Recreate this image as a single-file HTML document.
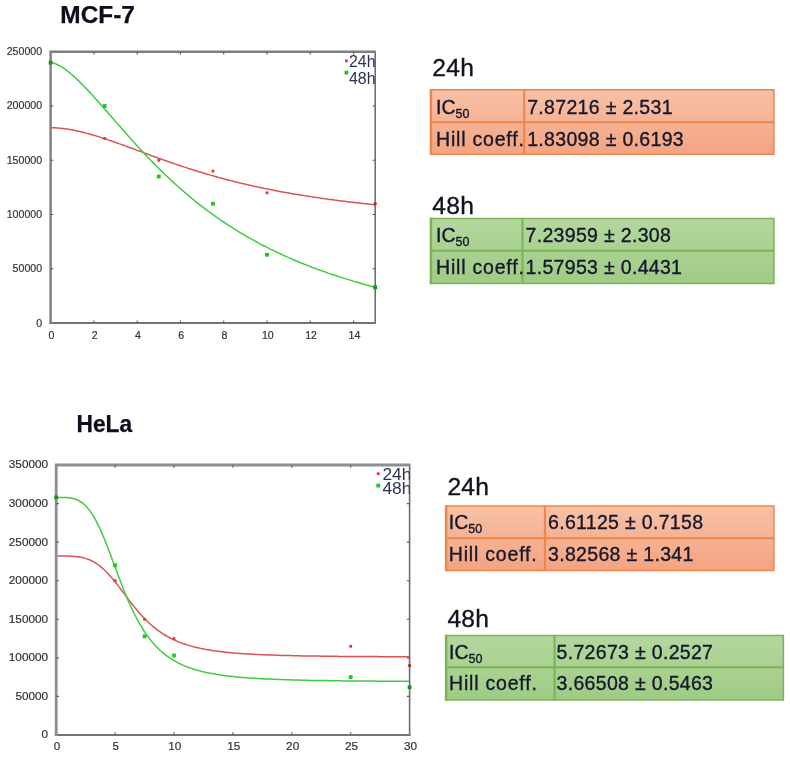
<!DOCTYPE html>
<html lang="en"><head><meta charset="utf-8"><title>IC50 dose-response fits</title>
<style>
html,body{margin:0;padding:0;background:#fff}
body{width:790px;height:758px;position:relative;overflow:hidden}
svg{position:absolute;left:0;top:0;font-family:"Liberation Sans",sans-serif}
.ax{font-size:10.8px;fill:#333;stroke:#333;stroke-width:.2px}
.lg{font-size:16px;fill:#2a3350}
.ttl{font-weight:bold;fill:#0c0e1c;stroke:#0c0e1c;stroke-width:.25px}
.hd{font-size:24.6px;fill:#10131f;letter-spacing:.3px;stroke:#10131f;stroke-width:.35px}
.tc{font-size:19.5px;fill:#15182a;letter-spacing:.8px;stroke:#15182a;stroke-width:.35px}
.tv{font-size:19.5px;fill:#15182a;letter-spacing:.32px;stroke:#15182a;stroke-width:.35px}
.ic{letter-spacing:0}
.sb{font-size:12.5px;letter-spacing:0}
</style></head><body>
<svg width="790" height="758" viewBox="0 0 790 758">
<defs>
<linearGradient id="go" x1="0" y1="0" x2="0" y2="1"><stop offset="0" stop-color="#f7c1a7"/><stop offset="1" stop-color="#f4a380"/></linearGradient>
<linearGradient id="gg" x1="0" y1="0" x2="0" y2="1"><stop offset="0" stop-color="#b4d79e"/><stop offset="1" stop-color="#9fcb84"/></linearGradient>
<filter id="bt" x="-2%" y="-10%" width="104%" height="120%"><feGaussianBlur stdDeviation="0.3"/></filter>
<filter id="bl" x="-5%" y="-5%" width="110%" height="110%"><feGaussianBlur stdDeviation="0.45"/></filter>
</defs>
<text class="ttl" x="60.3" y="23.4" font-size="24.3" textLength="74.6" lengthAdjust="spacingAndGlyphs">MCF-7</text>
<text class="ttl" x="76.5" y="432.4" font-size="23.4" textLength="55.7" lengthAdjust="spacingAndGlyphs">HeLa</text>
<g id="chart-mcf7" filter="url(#bl)">
<path d="M50.6,127.7 L52.2,127.7 L53.8,127.8 L55.5,127.8 L57.1,127.9 L58.7,128.1 L60.3,128.2 L62.0,128.4 L63.6,128.6 L65.2,128.8 L66.8,129.0 L68.5,129.3 L70.1,129.6 L71.7,129.8 L73.3,130.1 L74.9,130.5 L76.6,130.8 L78.2,131.2 L79.8,131.5 L81.4,131.9 L83.1,132.3 L84.7,132.7 L86.3,133.1 L87.9,133.6 L89.6,134.0 L91.2,134.5 L92.8,135.0 L94.4,135.4 L96.0,135.9 L97.7,136.4 L99.3,136.9 L100.9,137.4 L102.5,138.0 L104.2,138.5 L105.8,139.0 L107.4,139.6 L109.0,140.1 L110.7,140.7 L112.3,141.3 L113.9,141.8 L115.5,142.4 L117.1,143.0 L118.8,143.6 L120.4,144.1 L122.0,144.7 L123.6,145.3 L125.3,145.9 L126.9,146.5 L128.5,147.1 L130.1,147.7 L131.8,148.3 L133.4,148.9 L135.0,149.5 L136.6,150.1 L138.2,150.7 L139.9,151.3 L141.5,151.9 L143.1,152.5 L144.7,153.1 L146.4,153.7 L148.0,154.3 L149.6,154.9 L151.2,155.5 L152.8,156.1 L154.5,156.7 L156.1,157.3 L157.7,157.9 L159.3,158.5 L161.0,159.0 L162.6,159.6 L164.2,160.2 L165.8,160.8 L167.5,161.3 L169.1,161.9 L170.7,162.5 L172.3,163.0 L173.9,163.6 L175.6,164.1 L177.2,164.7 L178.8,165.2 L180.4,165.8 L182.1,166.3 L183.7,166.9 L185.3,167.4 L186.9,167.9 L188.6,168.5 L190.2,169.0 L191.8,169.5 L193.4,170.0 L195.0,170.5 L196.7,171.0 L198.3,171.5 L199.9,172.0 L201.5,172.5 L203.2,173.0 L204.8,173.5 L206.4,174.0 L208.0,174.4 L209.7,174.9 L211.3,175.4 L212.9,175.8 L214.5,176.3 L216.1,176.7 L217.8,177.2 L219.4,177.6 L221.0,178.1 L222.6,178.5 L224.3,179.0 L225.9,179.4 L227.5,179.8 L229.1,180.2 L230.8,180.6 L232.4,181.1 L234.0,181.5 L235.6,181.9 L237.2,182.3 L238.9,182.7 L240.5,183.1 L242.1,183.4 L243.7,183.8 L245.4,184.2 L247.0,184.6 L248.6,185.0 L250.2,185.3 L251.9,185.7 L253.5,186.1 L255.1,186.4 L256.7,186.8 L258.3,187.1 L260.0,187.5 L261.6,187.8 L263.2,188.1 L264.8,188.5 L266.5,188.8 L268.1,189.1 L269.7,189.5 L271.3,189.8 L273.0,190.1 L274.6,190.4 L276.2,190.7 L277.8,191.0 L279.4,191.4 L281.1,191.7 L282.7,192.0 L284.3,192.3 L285.9,192.5 L287.6,192.8 L289.2,193.1 L290.8,193.4 L292.4,193.7 L294.0,194.0 L295.7,194.2 L297.3,194.5 L298.9,194.8 L300.5,195.1 L302.2,195.3 L303.8,195.6 L305.4,195.8 L307.0,196.1 L308.7,196.3 L310.3,196.6 L311.9,196.8 L313.5,197.1 L315.1,197.3 L316.8,197.6 L318.4,197.8 L320.0,198.0 L321.6,198.3 L323.3,198.5 L324.9,198.7 L326.5,199.0 L328.1,199.2 L329.8,199.4 L331.4,199.6 L333.0,199.8 L334.6,200.1 L336.2,200.3 L337.9,200.5 L339.5,200.7 L341.1,200.9 L342.7,201.1 L344.4,201.3 L346.0,201.5 L347.6,201.7 L349.2,201.9 L350.9,202.1 L352.5,202.3 L354.1,202.5 L355.7,202.7 L357.3,202.8 L359.0,203.0 L360.6,203.2 L362.2,203.4 L363.8,203.6 L365.5,203.7 L367.1,203.9 L368.7,204.1 L370.3,204.3 L372.0,204.4 L373.6,204.6 L375.2,204.8" fill="none" stroke="#dc5252" stroke-width="1.5"/>
<path d="M50.6,62.6 L52.2,62.8 L53.8,63.2 L55.5,63.8 L57.1,64.5 L58.7,65.3 L60.3,66.2 L62.0,67.2 L63.6,68.2 L65.2,69.4 L66.8,70.6 L68.5,71.8 L70.1,73.1 L71.7,74.5 L73.3,75.9 L74.9,77.4 L76.6,78.9 L78.2,80.4 L79.8,82.0 L81.4,83.6 L83.1,85.3 L84.7,87.0 L86.3,88.6 L87.9,90.4 L89.6,92.1 L91.2,93.9 L92.8,95.6 L94.4,97.4 L96.0,99.2 L97.7,101.1 L99.3,102.9 L100.9,104.7 L102.5,106.6 L104.2,108.4 L105.8,110.3 L107.4,112.1 L109.0,114.0 L110.7,115.9 L112.3,117.7 L113.9,119.6 L115.5,121.5 L117.1,123.3 L118.8,125.2 L120.4,127.0 L122.0,128.9 L123.6,130.7 L125.3,132.6 L126.9,134.4 L128.5,136.2 L130.1,138.1 L131.8,139.9 L133.4,141.7 L135.0,143.5 L136.6,145.2 L138.2,147.0 L139.9,148.8 L141.5,150.5 L143.1,152.2 L144.7,154.0 L146.4,155.7 L148.0,157.4 L149.6,159.1 L151.2,160.8 L152.8,162.4 L154.5,164.1 L156.1,165.7 L157.7,167.3 L159.3,169.0 L161.0,170.6 L162.6,172.1 L164.2,173.7 L165.8,175.3 L167.5,176.8 L169.1,178.3 L170.7,179.9 L172.3,181.4 L173.9,182.9 L175.6,184.3 L177.2,185.8 L178.8,187.2 L180.4,188.7 L182.1,190.1 L183.7,191.5 L185.3,192.9 L186.9,194.3 L188.6,195.7 L190.2,197.0 L191.8,198.3 L193.4,199.7 L195.0,201.0 L196.7,202.3 L198.3,203.6 L199.9,204.9 L201.5,206.1 L203.2,207.4 L204.8,208.6 L206.4,209.8 L208.0,211.0 L209.7,212.2 L211.3,213.4 L212.9,214.6 L214.5,215.7 L216.1,216.9 L217.8,218.0 L219.4,219.2 L221.0,220.3 L222.6,221.4 L224.3,222.5 L225.9,223.5 L227.5,224.6 L229.1,225.7 L230.8,226.7 L232.4,227.7 L234.0,228.8 L235.6,229.8 L237.2,230.8 L238.9,231.8 L240.5,232.8 L242.1,233.7 L243.7,234.7 L245.4,235.6 L247.0,236.6 L248.6,237.5 L250.2,238.4 L251.9,239.3 L253.5,240.2 L255.1,241.1 L256.7,242.0 L258.3,242.9 L260.0,243.8 L261.6,244.6 L263.2,245.5 L264.8,246.3 L266.5,247.1 L268.1,247.9 L269.7,248.8 L271.3,249.6 L273.0,250.3 L274.6,251.1 L276.2,251.9 L277.8,252.7 L279.4,253.4 L281.1,254.2 L282.7,254.9 L284.3,255.7 L285.9,256.4 L287.6,257.1 L289.2,257.9 L290.8,258.6 L292.4,259.3 L294.0,260.0 L295.7,260.7 L297.3,261.3 L298.9,262.0 L300.5,262.7 L302.2,263.3 L303.8,264.0 L305.4,264.6 L307.0,265.3 L308.7,265.9 L310.3,266.5 L311.9,267.2 L313.5,267.8 L315.1,268.4 L316.8,269.0 L318.4,269.6 L320.0,270.2 L321.6,270.8 L323.3,271.3 L324.9,271.9 L326.5,272.5 L328.1,273.1 L329.8,273.6 L331.4,274.2 L333.0,274.7 L334.6,275.3 L336.2,275.8 L337.9,276.3 L339.5,276.9 L341.1,277.4 L342.7,277.9 L344.4,278.4 L346.0,278.9 L347.6,279.4 L349.2,279.9 L350.9,280.4 L352.5,280.9 L354.1,281.4 L355.7,281.8 L357.3,282.3 L359.0,282.8 L360.6,283.3 L362.2,283.7 L363.8,284.2 L365.5,284.6 L367.1,285.1 L368.7,285.5 L370.3,286.0 L372.0,286.4 L373.6,286.8 L375.2,287.3" fill="none" stroke="#40cc40" stroke-width="1.5"/>
<path d="M375.2,51.3V324.0" stroke="#6e6e6e" stroke-width="1.6" fill="none"/>
<path d="M49.4,323.1H376.0" stroke="#747474" stroke-width="2" fill="none"/>
<path d="M50.6,324.1V51.7H376.0" stroke="#7e7e7e" stroke-width="2.4" fill="none" stroke-linejoin="miter"/>
<rect x="103.3" y="137.1" width="2.8" height="2.8" fill="#f03030"/>
<rect x="157.4" y="158.9" width="2.8" height="2.8" fill="#f03030"/>
<rect x="211.5" y="169.7" width="2.8" height="2.8" fill="#f03030"/>
<rect x="265.6" y="191.4" width="2.8" height="2.8" fill="#f03030"/>
<rect x="373.8" y="202.3" width="2.8" height="2.8" fill="#b02828"/>
<rect x="48.7" y="60.7" width="3.8" height="3.8" fill="#1f8f1f"/>
<rect x="102.8" y="104.1" width="3.8" height="3.8" fill="#22c322"/>
<rect x="156.9" y="174.6" width="3.8" height="3.8" fill="#22c322"/>
<rect x="211.0" y="201.8" width="3.8" height="3.8" fill="#22c322"/>
<rect x="265.1" y="252.8" width="3.8" height="3.8" fill="#22c322"/>
<rect x="373.3" y="285.4" width="3.8" height="3.8" fill="#1f8f1f"/>
<path d="M93.9,323.1v-2.7 M93.9,51.7v2.7 M137.2,323.1v-2.7 M137.2,51.7v2.7 M180.4,323.1v-2.7 M180.4,51.7v2.7 M223.7,323.1v-2.7 M223.7,51.7v2.7 M267.0,323.1v-2.7 M267.0,51.7v2.7 M310.3,323.1v-2.7 M310.3,51.7v2.7 M353.6,323.1v-2.7 M353.6,51.7v2.7 M50.6,268.8h2.7 M375.2,268.8h-2.7 M50.6,214.5h2.7 M375.2,214.5h-2.7 M50.6,160.3h2.7 M375.2,160.3h-2.7 M50.6,106.0h2.7 M375.2,106.0h-2.7" stroke="#5c5c5c" stroke-width="1.1" fill="none"/>
<text class="ax" x="48.4" y="338.7" textLength="5.9" lengthAdjust="spacingAndGlyphs">0</text>
<text class="ax" x="91.7" y="338.7" textLength="5.9" lengthAdjust="spacingAndGlyphs">2</text>
<text class="ax" x="135.0" y="338.7" textLength="5.9" lengthAdjust="spacingAndGlyphs">4</text>
<text class="ax" x="178.3" y="338.7" textLength="5.9" lengthAdjust="spacingAndGlyphs">6</text>
<text class="ax" x="221.6" y="338.7" textLength="5.9" lengthAdjust="spacingAndGlyphs">8</text>
<text class="ax" x="261.9" y="338.7" textLength="11.8" lengthAdjust="spacingAndGlyphs">10</text>
<text class="ax" x="305.2" y="338.7" textLength="11.8" lengthAdjust="spacingAndGlyphs">12</text>
<text class="ax" x="348.5" y="338.7" textLength="11.8" lengthAdjust="spacingAndGlyphs">14</text>
<text class="ax" x="36.2" y="326.5" textLength="5.9" lengthAdjust="spacingAndGlyphs">0</text>
<text class="ax" x="12.6" y="272.2" textLength="29.5" lengthAdjust="spacingAndGlyphs">50000</text>
<text class="ax" x="6.7" y="217.9" textLength="35.4" lengthAdjust="spacingAndGlyphs">100000</text>
<text class="ax" x="6.7" y="163.7" textLength="35.4" lengthAdjust="spacingAndGlyphs">150000</text>
<text class="ax" x="6.7" y="109.4" textLength="35.4" lengthAdjust="spacingAndGlyphs">200000</text>
<text class="ax" x="6.7" y="55.1" textLength="35.4" lengthAdjust="spacingAndGlyphs">250000</text>
<clipPath id="k1"><rect x="50.6" y="51.7" width="325.8" height="271.4"/></clipPath>
<g clip-path="url(#k1)">
<text class="lg" x="349.0" y="66.7" textLength="26.5" lengthAdjust="spacingAndGlyphs">24h</text>
<text class="lg" x="349.0" y="84.2" textLength="26.5" lengthAdjust="spacingAndGlyphs">48h</text>
</g>
<rect x="345.0" y="59.5" width="2.8" height="2.8" fill="#f03030"/>
<rect x="344.5" y="70.7" width="3.8" height="3.8" fill="#22c322"/>
</g>
<g id="chart-hela" filter="url(#bl)">
<path d="M56.2,556.0 L58.0,556.0 L59.7,556.0 L61.5,556.0 L63.3,556.0 L65.0,556.1 L66.8,556.1 L68.6,556.1 L70.3,556.2 L72.1,556.3 L73.9,556.4 L75.6,556.5 L77.4,556.7 L79.2,557.0 L80.9,557.3 L82.7,557.6 L84.5,558.1 L86.2,558.6 L88.0,559.2 L89.8,559.9 L91.5,560.7 L93.3,561.6 L95.1,562.6 L96.8,563.8 L98.6,565.0 L100.4,566.4 L102.1,567.9 L103.9,569.5 L105.7,571.2 L107.4,573.0 L109.2,574.9 L111.0,576.9 L112.7,579.0 L114.5,581.1 L116.3,583.3 L118.0,585.6 L119.8,587.9 L121.6,590.2 L123.3,592.6 L125.1,594.9 L126.9,597.3 L128.6,599.6 L130.4,601.9 L132.2,604.2 L133.9,606.4 L135.7,608.6 L137.5,610.7 L139.2,612.7 L141.0,614.7 L142.8,616.7 L144.6,618.5 L146.3,620.3 L148.1,622.0 L149.9,623.7 L151.6,625.3 L153.4,626.8 L155.2,628.2 L156.9,629.6 L158.7,630.9 L160.5,632.1 L162.2,633.3 L164.0,634.5 L165.8,635.5 L167.5,636.6 L169.3,637.5 L171.1,638.4 L172.8,639.3 L174.6,640.1 L176.4,640.9 L178.1,641.7 L179.9,642.4 L181.7,643.0 L183.4,643.7 L185.2,644.3 L187.0,644.9 L188.7,645.4 L190.5,645.9 L192.3,646.4 L194.0,646.9 L195.8,647.3 L197.6,647.7 L199.3,648.1 L201.1,648.5 L202.9,648.8 L204.6,649.2 L206.4,649.5 L208.2,649.8 L209.9,650.1 L211.7,650.4 L213.5,650.7 L215.2,650.9 L217.0,651.1 L218.8,651.4 L220.5,651.6 L222.3,651.8 L224.1,652.0 L225.8,652.2 L227.6,652.4 L229.4,652.5 L231.1,652.7 L232.9,652.9 L234.7,653.0 L236.4,653.2 L238.2,653.3 L240.0,653.4 L241.7,653.6 L243.5,653.7 L245.3,653.8 L247.0,653.9 L248.8,654.0 L250.6,654.1 L252.3,654.2 L254.1,654.3 L255.9,654.4 L257.6,654.5 L259.4,654.6 L261.2,654.7 L262.9,654.7 L264.7,654.8 L266.5,654.9 L268.2,654.9 L270.0,655.0 L271.8,655.1 L273.5,655.1 L275.3,655.2 L277.1,655.2 L278.8,655.3 L280.6,655.4 L282.4,655.4 L284.1,655.5 L285.9,655.5 L287.7,655.5 L289.4,655.6 L291.2,655.6 L293.0,655.7 L294.7,655.7 L296.5,655.7 L298.3,655.8 L300.0,655.8 L301.8,655.9 L303.6,655.9 L305.3,655.9 L307.1,655.9 L308.9,656.0 L310.6,656.0 L312.4,656.0 L314.2,656.1 L315.9,656.1 L317.7,656.1 L319.5,656.1 L321.2,656.2 L323.0,656.2 L324.8,656.2 L326.6,656.2 L328.3,656.2 L330.1,656.3 L331.9,656.3 L333.6,656.3 L335.4,656.3 L337.2,656.3 L338.9,656.4 L340.7,656.4 L342.5,656.4 L344.2,656.4 L346.0,656.4 L347.8,656.4 L349.5,656.5 L351.3,656.5 L353.1,656.5 L354.8,656.5 L356.6,656.5 L358.4,656.5 L360.1,656.5 L361.9,656.5 L363.7,656.6 L365.4,656.6 L367.2,656.6 L369.0,656.6 L370.7,656.6 L372.5,656.6 L374.3,656.6 L376.0,656.6 L377.8,656.6 L379.6,656.7 L381.3,656.7 L383.1,656.7 L384.9,656.7 L386.6,656.7 L388.4,656.7 L390.2,656.7 L391.9,656.7 L393.7,656.7 L395.5,656.7 L397.2,656.7 L399.0,656.7 L400.8,656.7 L402.5,656.8 L404.3,656.8 L406.1,656.8 L407.8,656.8 L409.6,656.8" fill="none" stroke="#dc5252" stroke-width="1.5"/>
<path d="M56.2,497.4 L58.0,497.4 L59.7,497.4 L61.5,497.4 L63.3,497.4 L65.0,497.5 L66.8,497.6 L68.6,497.8 L70.3,498.0 L72.1,498.3 L73.9,498.7 L75.6,499.3 L77.4,500.0 L79.2,500.9 L80.9,502.0 L82.7,503.2 L84.5,504.7 L86.2,506.4 L88.0,508.4 L89.8,510.7 L91.5,513.2 L93.3,515.9 L95.1,519.0 L96.8,522.3 L98.6,525.8 L100.4,529.6 L102.1,533.6 L103.9,537.8 L105.7,542.2 L107.4,546.7 L109.2,551.3 L111.0,556.0 L112.7,560.8 L114.5,565.5 L116.3,570.3 L118.0,575.0 L119.8,579.7 L121.6,584.3 L123.3,588.8 L125.1,593.2 L126.9,597.4 L128.6,601.6 L130.4,605.5 L132.2,609.4 L133.9,613.0 L135.7,616.5 L137.5,619.9 L139.2,623.1 L141.0,626.1 L142.8,629.0 L144.6,631.8 L146.3,634.4 L148.1,636.8 L149.9,639.2 L151.6,641.4 L153.4,643.5 L155.2,645.4 L156.9,647.3 L158.7,649.0 L160.5,650.7 L162.2,652.2 L164.0,653.7 L165.8,655.1 L167.5,656.4 L169.3,657.6 L171.1,658.8 L172.8,659.9 L174.6,661.0 L176.4,661.9 L178.1,662.9 L179.9,663.7 L181.7,664.6 L183.4,665.4 L185.2,666.1 L187.0,666.8 L188.7,667.5 L190.5,668.1 L192.3,668.7 L194.0,669.2 L195.8,669.8 L197.6,670.3 L199.3,670.8 L201.1,671.2 L202.9,671.7 L204.6,672.1 L206.4,672.5 L208.2,672.8 L209.9,673.2 L211.7,673.5 L213.5,673.8 L215.2,674.1 L217.0,674.4 L218.8,674.7 L220.5,675.0 L222.3,675.2 L224.1,675.5 L225.8,675.7 L227.6,675.9 L229.4,676.1 L231.1,676.3 L232.9,676.5 L234.7,676.7 L236.4,676.9 L238.2,677.0 L240.0,677.2 L241.7,677.4 L243.5,677.5 L245.3,677.6 L247.0,677.8 L248.8,677.9 L250.6,678.0 L252.3,678.2 L254.1,678.3 L255.9,678.4 L257.6,678.5 L259.4,678.6 L261.2,678.7 L262.9,678.8 L264.7,678.9 L266.5,679.0 L268.2,679.0 L270.0,679.1 L271.8,679.2 L273.5,679.3 L275.3,679.3 L277.1,679.4 L278.8,679.5 L280.6,679.5 L282.4,679.6 L284.1,679.7 L285.9,679.7 L287.7,679.8 L289.4,679.8 L291.2,679.9 L293.0,679.9 L294.7,680.0 L296.5,680.0 L298.3,680.1 L300.0,680.1 L301.8,680.2 L303.6,680.2 L305.3,680.2 L307.1,680.3 L308.9,680.3 L310.6,680.4 L312.4,680.4 L314.2,680.4 L315.9,680.5 L317.7,680.5 L319.5,680.5 L321.2,680.6 L323.0,680.6 L324.8,680.6 L326.6,680.6 L328.3,680.7 L330.1,680.7 L331.9,680.7 L333.6,680.7 L335.4,680.8 L337.2,680.8 L338.9,680.8 L340.7,680.8 L342.5,680.9 L344.2,680.9 L346.0,680.9 L347.8,680.9 L349.5,680.9 L351.3,680.9 L353.1,681.0 L354.8,681.0 L356.6,681.0 L358.4,681.0 L360.1,681.0 L361.9,681.0 L363.7,681.1 L365.4,681.1 L367.2,681.1 L369.0,681.1 L370.7,681.1 L372.5,681.1 L374.3,681.1 L376.0,681.2 L377.8,681.2 L379.6,681.2 L381.3,681.2 L383.1,681.2 L384.9,681.2 L386.6,681.2 L388.4,681.2 L390.2,681.2 L391.9,681.3 L393.7,681.3 L395.5,681.3 L397.2,681.3 L399.0,681.3 L400.8,681.3 L402.5,681.3 L404.3,681.3 L406.1,681.3 L407.8,681.3 L409.6,681.3" fill="none" stroke="#40cc40" stroke-width="1.5"/>
<path d="M409.6,464.6V735.9" stroke="#6e6e6e" stroke-width="1.6" fill="none"/>
<path d="M54.8,735.0H410.4" stroke="#747474" stroke-width="2" fill="none"/>
<path d="M56.2,736.0V465.0H410.4" stroke="#8e8e8e" stroke-width="2.8" fill="none" stroke-linejoin="miter"/>
<rect x="113.7" y="579.3" width="2.8" height="2.8" fill="#f03030"/>
<rect x="143.2" y="617.9" width="2.8" height="2.8" fill="#f03030"/>
<rect x="172.6" y="637.2" width="2.8" height="2.8" fill="#f03030"/>
<rect x="349.3" y="644.9" width="2.8" height="2.8" fill="#f03030"/>
<rect x="408.2" y="664.2" width="2.8" height="2.8" fill="#b02828"/>
<rect x="54.3" y="495.5" width="3.8" height="3.8" fill="#1f8f1f"/>
<rect x="113.2" y="563.4" width="3.8" height="3.8" fill="#22c322"/>
<rect x="142.7" y="634.4" width="3.8" height="3.8" fill="#22c322"/>
<rect x="172.1" y="653.6" width="3.8" height="3.8" fill="#22c322"/>
<rect x="348.8" y="675.2" width="3.8" height="3.8" fill="#22c322"/>
<rect x="407.7" y="685.3" width="3.8" height="3.8" fill="#1f8f1f"/>
<path d="M115.1,735.0v-2.7 M115.1,465.0v2.7 M174.0,735.0v-2.7 M174.0,465.0v2.7 M232.9,735.0v-2.7 M232.9,465.0v2.7 M291.8,735.0v-2.7 M291.8,465.0v2.7 M350.7,735.0v-2.7 M350.7,465.0v2.7 M56.2,696.4h2.7 M409.6,696.4h-2.7 M56.2,657.9h2.7 M409.6,657.9h-2.7 M56.2,619.3h2.7 M409.6,619.3h-2.7 M56.2,580.7h2.7 M409.6,580.7h-2.7 M56.2,542.1h2.7 M409.6,542.1h-2.7 M56.2,503.6h2.7 M409.6,503.6h-2.7" stroke="#5c5c5c" stroke-width="1.1" fill="none"/>
<text class="ax" x="53.7" y="749.8" textLength="6.5" lengthAdjust="spacingAndGlyphs">0</text>
<text class="ax" x="112.6" y="749.8" textLength="6.5" lengthAdjust="spacingAndGlyphs">5</text>
<text class="ax" x="168.2" y="749.8" textLength="13.1" lengthAdjust="spacingAndGlyphs">10</text>
<text class="ax" x="227.2" y="749.8" textLength="13.1" lengthAdjust="spacingAndGlyphs">15</text>
<text class="ax" x="286.1" y="749.8" textLength="13.1" lengthAdjust="spacingAndGlyphs">20</text>
<text class="ax" x="344.9" y="749.8" textLength="13.1" lengthAdjust="spacingAndGlyphs">25</text>
<text class="ax" x="403.9" y="749.8" textLength="13.1" lengthAdjust="spacingAndGlyphs">30</text>
<text class="ax" x="41.6" y="738.4" textLength="6.5" lengthAdjust="spacingAndGlyphs">0</text>
<text class="ax" x="15.4" y="699.8" textLength="32.8" lengthAdjust="spacingAndGlyphs">50000</text>
<text class="ax" x="8.8" y="661.3" textLength="39.3" lengthAdjust="spacingAndGlyphs">100000</text>
<text class="ax" x="8.8" y="622.7" textLength="39.3" lengthAdjust="spacingAndGlyphs">150000</text>
<text class="ax" x="8.8" y="584.1" textLength="39.3" lengthAdjust="spacingAndGlyphs">200000</text>
<text class="ax" x="8.8" y="545.5" textLength="39.3" lengthAdjust="spacingAndGlyphs">250000</text>
<text class="ax" x="8.8" y="507.0" textLength="39.3" lengthAdjust="spacingAndGlyphs">300000</text>
<text class="ax" x="8.8" y="468.4" textLength="39.3" lengthAdjust="spacingAndGlyphs">350000</text>
<clipPath id="k2"><rect x="56.2" y="465.0" width="353.4" height="270.0"/></clipPath>
<g clip-path="url(#k2)">
<text class="lg" x="382.4" y="480.1" textLength="29.0" lengthAdjust="spacingAndGlyphs">24h</text>
<text class="lg" x="382.4" y="493.5" textLength="29.0" lengthAdjust="spacingAndGlyphs">48h</text>
</g>
<rect x="376.8" y="472.3" width="2.8" height="2.8" fill="#f03030"/>
<rect x="376.3" y="483.7" width="3.8" height="3.8" fill="#22c322"/>
</g>
<text class="hd" x="432.2" y="75.8">24h</text>
<g id="tbl-mcf7-24h">
<rect x="430.6" y="89.7" width="343.3" height="64.6" fill="url(#go)"/>
<g fill="none" stroke="#ef8648" filter="url(#bt)">
<path d="M430.6,89.7H773.9V154.3H430.6" stroke-width="1.5"/>
<path d="M430.6,122.3H773.9" stroke-width="1.9"/>
<path d="M524.2,89.7V154.3" stroke-width="2.1"/>
<path d="M430.9,89.0V155.0" stroke-width="2.5"/>
</g>
<text class="tc" x="436.0" y="113.7"><tspan class="ic">IC</tspan><tspan class="sb" dy="4.3">50</tspan></text>
<text class="tc" x="436.0" y="145.6">Hill coeff.</text>
<text class="tv" x="527.2" y="113.7">7.87216 ± 2.531</text>
<text class="tv" x="527.2" y="145.6">1.83098 ± 0.6193</text>
</g>
<text class="hd" x="432.2" y="213.6">48h</text>
<g id="tbl-mcf7-48h">
<rect x="430.6" y="218.4" width="343.3" height="65.1" fill="url(#gg)"/>
<g fill="none" stroke="#7ab455" filter="url(#bt)">
<path d="M430.6,218.4H773.9V283.5H430.6" stroke-width="1.5"/>
<path d="M430.6,250.8H773.9" stroke-width="1.9"/>
<path d="M522.5,218.4V283.5" stroke-width="2.1"/>
<path d="M430.9,217.7V284.2" stroke-width="2.5"/>
</g>
<text class="tc" x="436.0" y="241.9"><tspan class="ic">IC</tspan><tspan class="sb" dy="4.3">50</tspan></text>
<text class="tc" x="436.0" y="274.0">Hill coeff.</text>
<text class="tv" x="525.5" y="241.9">7.23959 ± 2.308</text>
<text class="tv" x="525.5" y="274.0">1.57953 ± 0.4431</text>
</g>
<text class="hd" x="447.4" y="494.8">24h</text>
<g id="tbl-hela-24h">
<rect x="445.8" y="506.0" width="328.1" height="64.5" fill="url(#go)"/>
<g fill="none" stroke="#ef8648" filter="url(#bt)">
<path d="M445.8,506.0H773.9V570.5H445.8" stroke-width="1.5"/>
<path d="M445.8,538.2H773.9" stroke-width="1.9"/>
<path d="M544.9,506.0V570.5" stroke-width="2.1"/>
<path d="M446.1,505.3V571.2" stroke-width="2.5"/>
</g>
<text class="tc" x="448.8" y="528.6"><tspan class="ic">IC</tspan><tspan class="sb" dy="4.3">50</tspan></text>
<text class="tc" x="448.8" y="560.8">Hill coeff.</text>
<text class="tv" x="548.0" y="528.6">6.61125 ± 0.7158</text>
<text class="tv" x="548.0" y="560.8">3.82568 ± 1.341</text>
</g>
<text class="hd" x="447.4" y="626.6">48h</text>
<g id="tbl-hela-48h">
<rect x="445.8" y="635.5" width="337.6" height="64.6" fill="url(#gg)"/>
<g fill="none" stroke="#7ab455" filter="url(#bt)">
<path d="M445.8,635.5H783.4V700.1H445.8" stroke-width="1.5"/>
<path d="M445.8,667.3H783.4" stroke-width="1.9"/>
<path d="M554.6,635.5V700.1" stroke-width="2.1"/>
<path d="M446.1,634.8V700.8" stroke-width="2.5"/>
</g>
<text class="tc" x="449.0" y="658.6"><tspan class="ic">IC</tspan><tspan class="sb" dy="4.3">50</tspan></text>
<text class="tc" x="449.0" y="690.4">Hill coeff.</text>
<text class="tv" x="556.5" y="658.6">5.72673 ± 0.2527</text>
<text class="tv" x="556.5" y="690.4">3.66508 ± 0.5463</text>
</g>
</svg>
</body></html>
